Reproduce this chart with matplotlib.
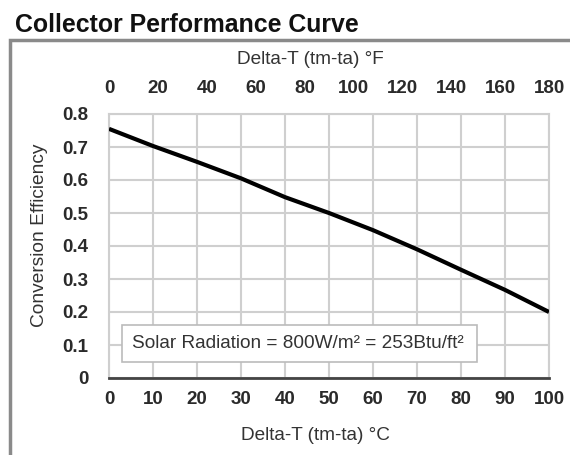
import matplotlib
matplotlib.use("Agg")
import matplotlib.pyplot as plt
from matplotlib.patches import Rectangle

plt.rcParams['font.family'] = ['Liberation Sans', 'DejaVu Sans']

delta_c = [0, 10, 20, 30, 40, 50, 60, 70, 80, 90, 100]
efficiency = [0.755, 0.703, 0.655, 0.605, 0.548, 0.500, 0.448, 0.390, 0.328, 0.267, 0.200]
x_ticks_c = [0, 10, 20, 30, 40, 50, 60, 70, 80, 90, 100]
x_ticks_f = [0, 20, 40, 60, 80, 100, 120, 140, 160, 180]
y_ticks = [0, 0.1, 0.2, 0.3, 0.4, 0.5, 0.6, 0.7, 0.8]
y_tick_labels = ['0', '0.1', '0.2', '0.3', '0.4', '0.5', '0.6', '0.7', '0.8']

W, H = 570, 455
fig = plt.figure(figsize=(W / 100, H / 100), dpi=100)

# outer frame
fig.patches.append(Rectangle((10 / W, -0.05), 1.2, (1 - 40 / H) + 0.05, transform=fig.transFigure,
                             fill=False, edgecolor='#8a8a8a', linewidth=2.5, zorder=0))

fig.text(15 / W, 1 - 32 / H, 'Collector Performance Curve', fontsize=17.9, fontweight='bold',
         ha='left', va='baseline', color='#111111')

ax = fig.add_axes([109 / W, 1 - 378 / H, (549 - 109) / W, (378 - 114) / H])
ax.plot(delta_c, efficiency, color='black', linewidth=3, solid_capstyle='butt', zorder=3)
ax.set_xlim(0, 100)
ax.set_ylim(0, 0.8)
ax.set_xticks(x_ticks_c)
ax.set_yticks(y_ticks)
ax.set_yticklabels(y_tick_labels)
ax.grid(True, color='#cfcfcf', linewidth=1.5, zorder=0)
ax.set_axisbelow(True)
for s in ['left', 'right', 'top']:
    ax.spines[s].set_color('#cfcfcf')
    ax.spines[s].set_linewidth(1.5)
ax.spines['bottom'].set_color('#444444')
ax.spines['bottom'].set_linewidth(2)
ax.tick_params(axis='both', length=0, labelsize=13.5, colors='#2a2a2a')
ax.tick_params(axis='x', pad=9)
ax.tick_params(axis='y', pad=15)
for lab in ax.get_xticklabels() + ax.get_yticklabels():
    lab.set_fontweight('bold')

sec = ax.secondary_xaxis('top', functions=(lambda c: c * 1.8, lambda f: f / 1.8))
sec.set_xticks(x_ticks_f)
sec.tick_params(length=0, labelsize=13.5, colors='#2a2a2a', pad=12)
sec.spines['top'].set_visible(False)
for lab in sec.get_xticklabels():
    lab.set_fontweight('bold')

ax.add_patch(Rectangle((3, 0.048), 80.6, 0.112, facecolor='white', edgecolor='#bbbbbb',
                       linewidth=1.2, zorder=4))
ax.text(5.3, 0.104, 'Solar Radiation = 800W/m\u00b2 = 253Btu/ft\u00b2', fontsize=13.7, color='#333333',
        ha='left', va='center', zorder=5)

fig.text(310 / W, 1 - 60 / H, 'Delta-T (tm-ta) \u00b0F', fontsize=13.7, ha='center', va='center', color='#333333')
fig.text(315 / W, 1 - 436 / H, 'Delta-T (tm-ta) \u00b0C', fontsize=13.7, ha='center', va='center', color='#333333')
fig.text(40 / W, 1 - 235 / H, 'Conversion Efficiency', fontsize=13.8, rotation=90, ha='center', va='center', color='#333333')

fig.savefig('out.png', dpi=100)
